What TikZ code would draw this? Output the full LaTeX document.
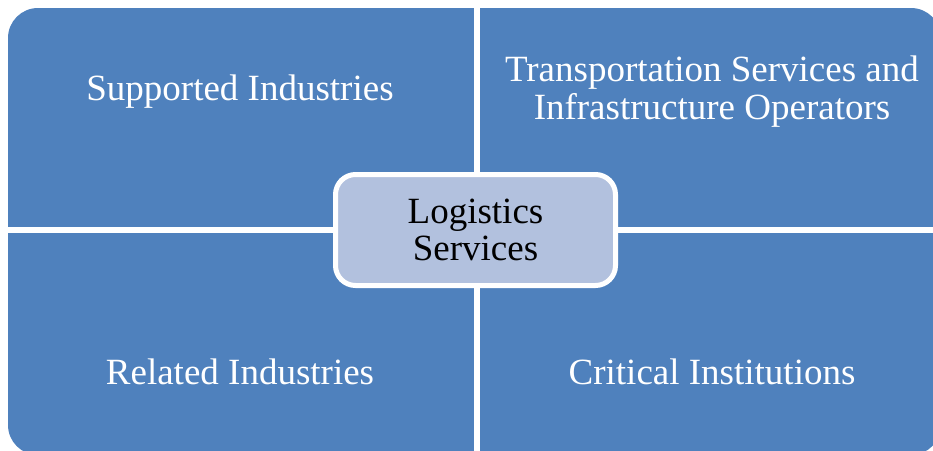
\documentclass[tikz,border=0pt]{standalone}
\usepackage{fontspec}
\setmainfont{Liberation Serif}
\usetikzlibrary{calc}

\definecolor{quadblue}{RGB}{79,129,189}
\definecolor{coreblue}{RGB}{178,193,222}

\begin{document}
\begin{tikzpicture}[x=1pt, y=-1pt,
    quad/.style={text=white, align=center, font=\fontsize{37}{38}\selectfont},
    core/.style={draw=white, line width=5pt, fill=coreblue, rounded corners=20pt,
        minimum width=280pt, minimum height=111pt, align=center,
        font=\fontsize{37}{37}\selectfont}]
    \useasboundingbox (0,0) rectangle (933,450);

    \fill [quadblue, rounded corners=30pt] (8,8) rectangle (941,455);
    \fill [white] (473.5,0) rectangle (479.5,460);
    \fill [white] (0,227) rectangle (945,233);

    \node [quad] (SI) at (240, 91.3) {Supported Industries};
    \node [quad] (TS) at (712, 91.3) {Transportation Services and\\Infrastructure Operators};
    \node [quad] (RI) at (240, 371.5) {Related Industries};
    \node [quad] (CI) at (712, 371.5) {Critical Institutions};

    \node [core] (LS) at (475.5, 230) {Logistics\\Services};
\end{tikzpicture}
\end{document}
